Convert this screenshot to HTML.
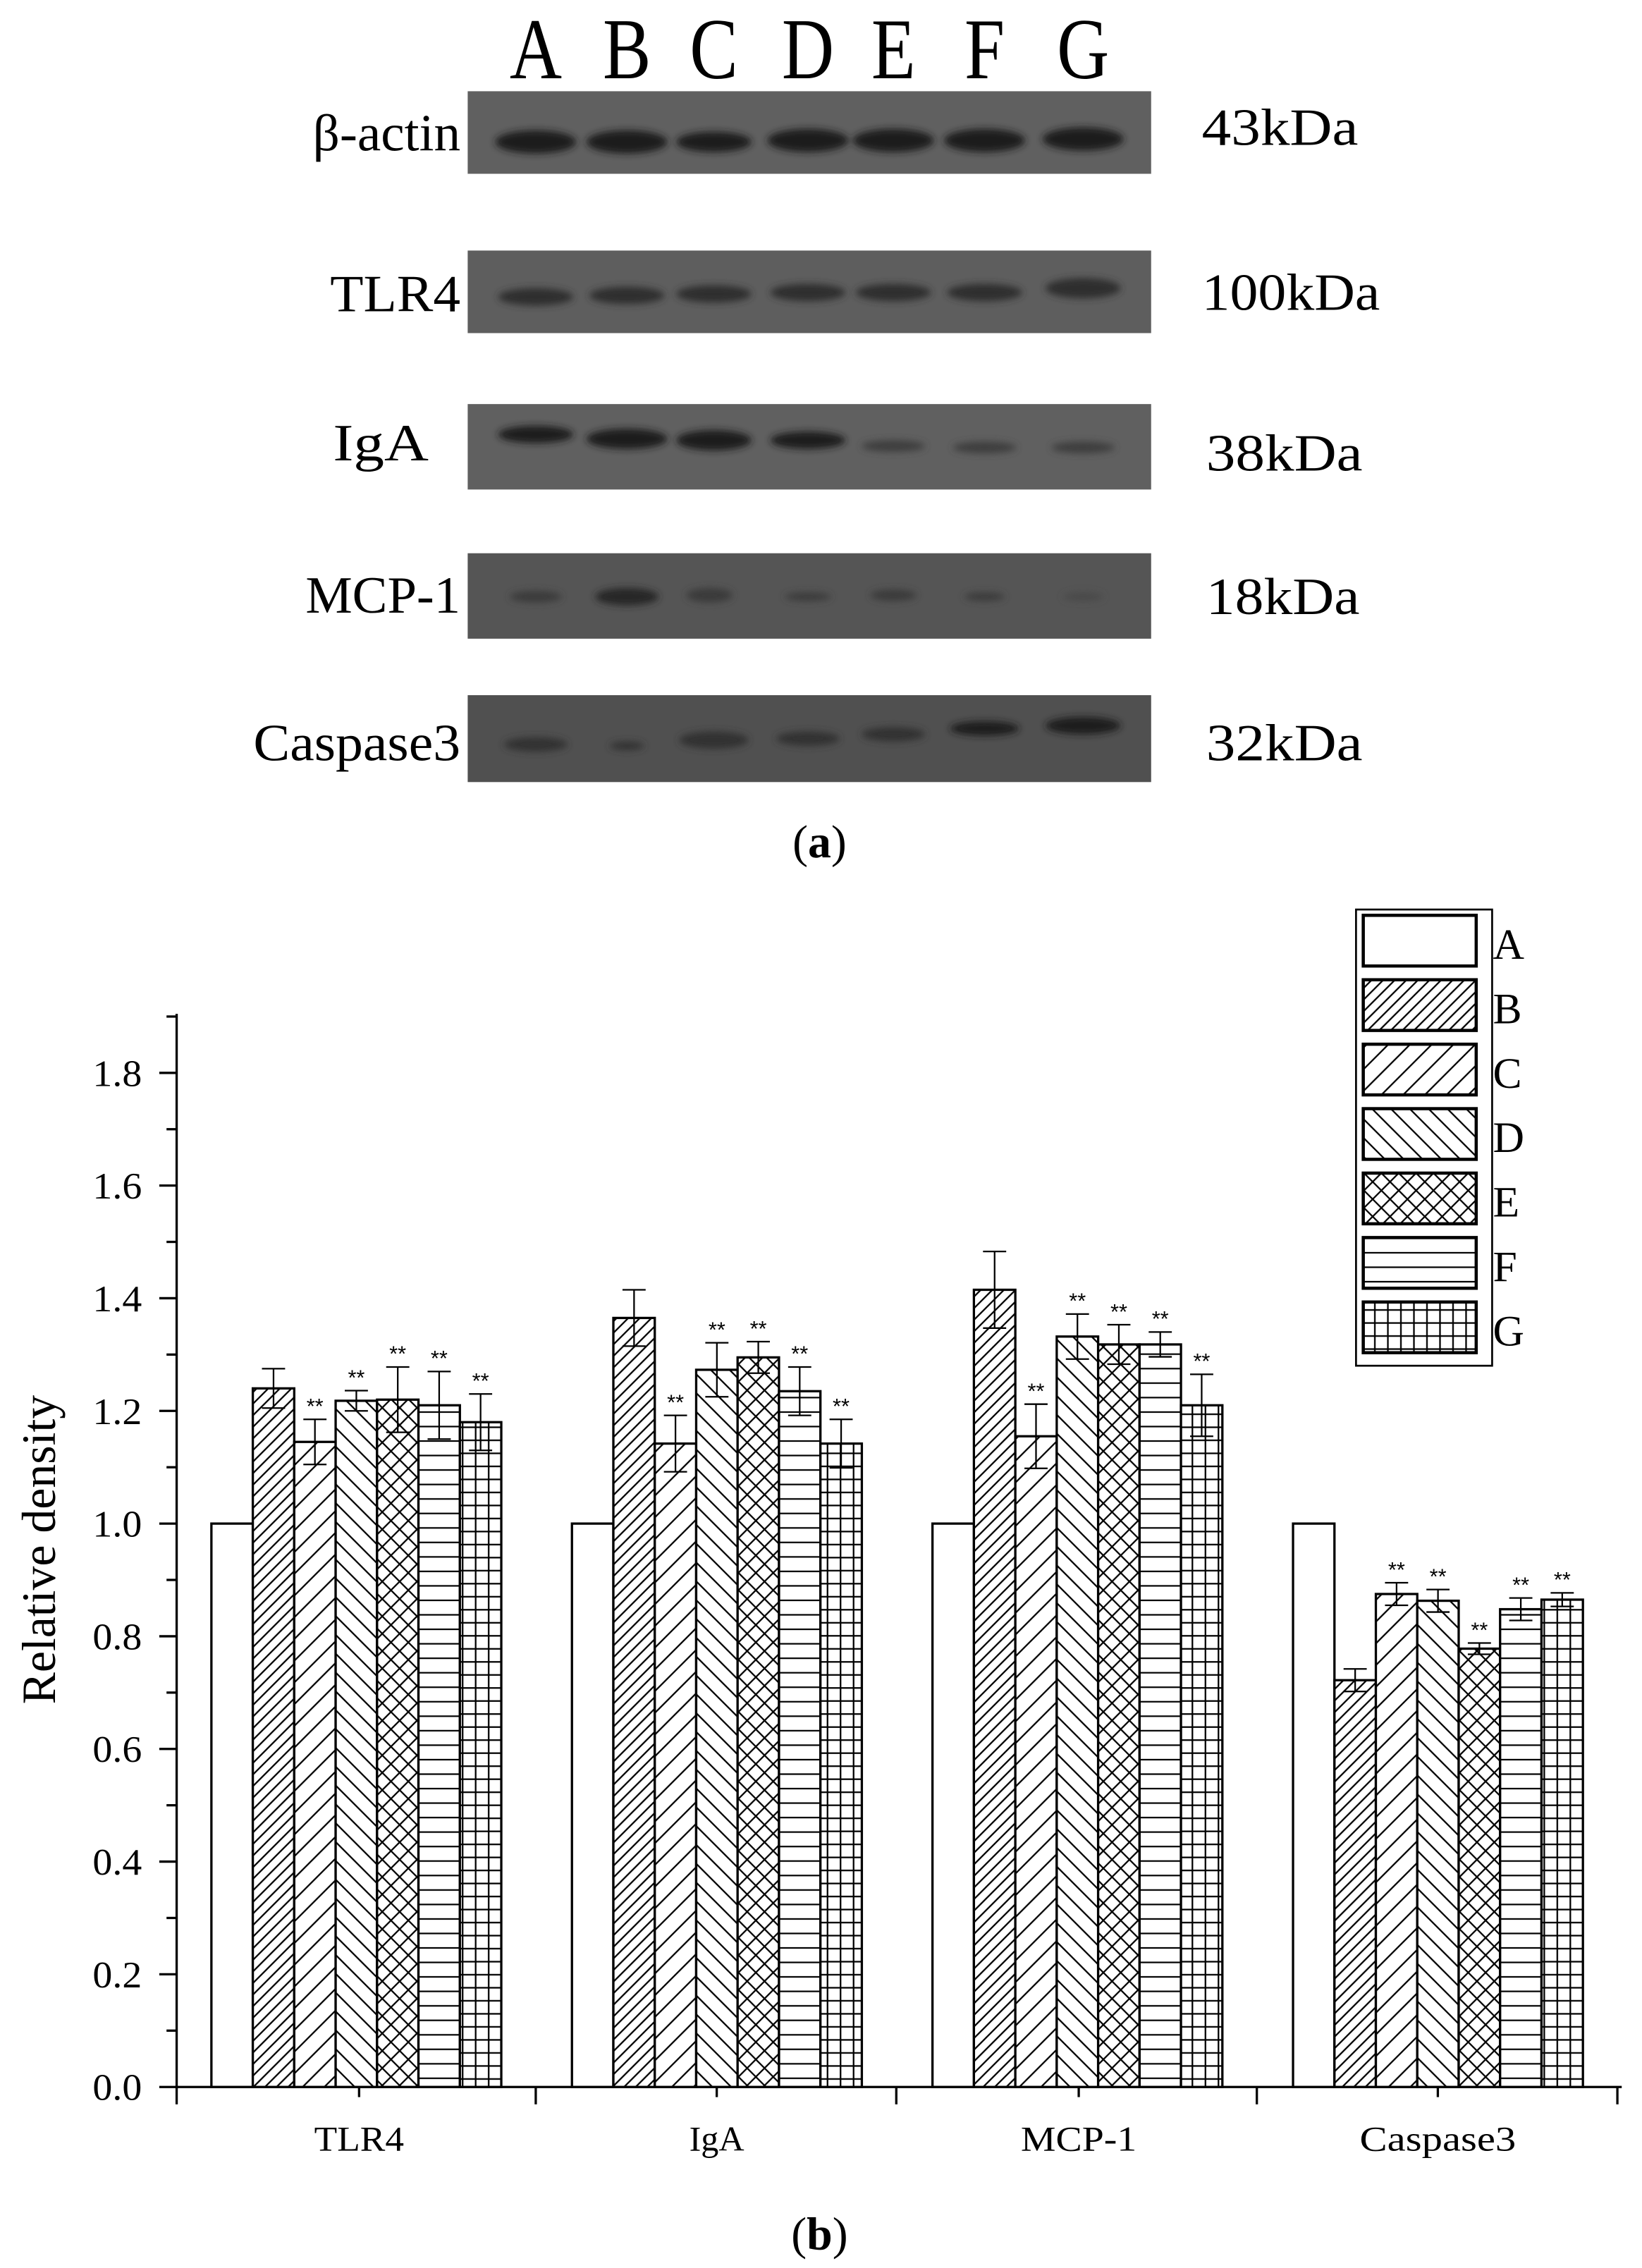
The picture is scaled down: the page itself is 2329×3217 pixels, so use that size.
<!DOCTYPE html>
<html><head><meta charset="utf-8"><style>html,body{margin:0;padding:0;background:#fff}svg{display:block}</style></head>
<body>
<svg xmlns="http://www.w3.org/2000/svg" width="2329" height="3217" viewBox="0 0 1134 1566" preserveAspectRatio="none" font-family="Liberation Serif, serif">
<defs>
<pattern id="pB" patternUnits="userSpaceOnUse" width="8" height="8"><rect width="8" height="8" fill="#fff"/><path d="M-1,9 L9,-1 M-3,3 L3,-3 M5,11 L11,5" stroke="#000" stroke-width="1.1"/></pattern>
<pattern id="pC" patternUnits="userSpaceOnUse" width="15" height="15"><rect width="15" height="15" fill="#fff"/><path d="M-1,16 L16,-1 M-3,3 L3,-3 M12,18 L18,12" stroke="#000" stroke-width="1.1"/></pattern>
<pattern id="pD" patternUnits="userSpaceOnUse" width="13" height="13"><rect width="13" height="13" fill="#fff"/><path d="M-1,-1 L14,14 M-3,10 L3,16 M10,-3 L16,3" stroke="#000" stroke-width="1.1"/></pattern>
<pattern id="pE" patternUnits="userSpaceOnUse" width="12" height="12"><rect width="12" height="12" fill="#fff"/><path d="M-1,-1 L13,13 M-1,13 L13,-1 M-3,9 L3,15 M9,-3 L15,3 M-3,3 L3,-3 M9,15 L15,9" stroke="#000" stroke-width="1.1"/></pattern>
<pattern id="pF" patternUnits="userSpaceOnUse" width="10" height="10"><rect width="10" height="10" fill="#fff"/><path d="M0,5 L10,5" stroke="#000" stroke-width="1.1"/></pattern>
<pattern id="pG" patternUnits="userSpaceOnUse" width="9" height="9"><rect width="9" height="9" fill="#fff"/><path d="M0,4.5 L9,4.5 M4.5,0 L4.5,9" stroke="#000" stroke-width="1.1"/></pattern>
<filter id="bl"><feGaussianBlur stdDeviation="2.5"/></filter>
</defs>
<rect width="1134" height="1566" fill="#fff"/>

<!-- Panel a -->
<g font-size="50" text-anchor="middle" transform="translate(0,54) scale(1,1.2)">
<text x="370" y="0">A</text><text x="433" y="0">B</text><text x="493" y="0">C</text><text x="558" y="0">D</text><text x="617" y="0">E</text><text x="680" y="0">F</text><text x="748" y="0">G</text>
</g>
<g id="blots">
<rect x="323" y="63" width="472" height="57" fill="#606060"/>
<rect x="323" y="173" width="472" height="57" fill="#5e5e5e"/>
<rect x="323" y="279" width="472" height="59" fill="#606060"/>
<rect x="323" y="382" width="472" height="59" fill="#555"/>
<rect x="323" y="480" width="472" height="60" fill="#505050"/>
<g filter="url(#bl)" fill="#1e1e1e">
<ellipse cx="370" cy="98" rx="28" ry="8"/><ellipse cx="433" cy="98" rx="28" ry="8"/><ellipse cx="493" cy="98" rx="26" ry="7"/><ellipse cx="558" cy="97" rx="28" ry="8"/><ellipse cx="617" cy="97" rx="28" ry="8"/><ellipse cx="680" cy="97" rx="28" ry="8"/><ellipse cx="748" cy="96" rx="28" ry="8"/>
<g fill="#2e2e2e"><ellipse cx="370" cy="205" rx="26" ry="6"/><ellipse cx="433" cy="204" rx="26" ry="6"/><ellipse cx="493" cy="203" rx="26" ry="6"/><ellipse cx="558" cy="202" rx="26" ry="6"/><ellipse cx="617" cy="202" rx="26" ry="6"/><ellipse cx="680" cy="202" rx="26" ry="6"/><ellipse cx="748" cy="199" rx="26" ry="7"/></g>
<ellipse cx="370" cy="300" rx="26" ry="6"/><ellipse cx="433" cy="303" rx="28" ry="7"/><ellipse cx="493" cy="304" rx="26" ry="7"/><ellipse cx="558" cy="304" rx="26" ry="6"/><g fill="#3e3e3e"><ellipse cx="617" cy="308" rx="22" ry="4"/><ellipse cx="680" cy="309" rx="22" ry="4"/><ellipse cx="748" cy="309" rx="22" ry="4"/></g>
<g fill="#3a3a3a"><ellipse cx="370" cy="412" rx="18" ry="4"/><ellipse cx="490" cy="411" rx="16" ry="5"/><ellipse cx="558" cy="412" rx="16" ry="3"/><ellipse cx="617" cy="411" rx="16" ry="4"/><ellipse cx="680" cy="412" rx="14" ry="3"/><ellipse cx="748" cy="412" rx="14" ry="3" fill="#4a4a4a"/></g><ellipse cx="433" cy="412" rx="22" ry="6" fill="#262626"/>
<g fill="#333"><ellipse cx="370" cy="514" rx="22" ry="5"/><ellipse cx="493" cy="511" rx="24" ry="6"/><ellipse cx="558" cy="510" rx="22" ry="5"/><ellipse cx="617" cy="507" rx="22" ry="5"/><ellipse cx="433" cy="515" rx="12" ry="3"/></g><ellipse cx="680" cy="503" rx="24" ry="5"/><ellipse cx="748" cy="501" rx="26" ry="6"/>
</g>
</g>
<g font-size="36" text-anchor="end">
<text x="318" y="104" textLength="102" lengthAdjust="spacingAndGlyphs">β-actin</text>
<text x="318" y="215" textLength="90" lengthAdjust="spacingAndGlyphs">TLR4</text>
<text x="296" y="318" textLength="66" lengthAdjust="spacingAndGlyphs">IgA</text>
<text x="318" y="423" textLength="107" lengthAdjust="spacingAndGlyphs">MCP-1</text>
<text x="318" y="525" textLength="143" lengthAdjust="spacingAndGlyphs">Caspase3</text>
</g>
<g font-size="36">
<text x="830" y="100" textLength="108" lengthAdjust="spacingAndGlyphs">43kDa</text>
<text x="830" y="214" textLength="123" lengthAdjust="spacingAndGlyphs">100kDa</text>
<text x="833" y="325" textLength="108" lengthAdjust="spacingAndGlyphs">38kDa</text>
<text x="833" y="424" textLength="106" lengthAdjust="spacingAndGlyphs">18kDa</text>
<text x="833" y="525" textLength="108" lengthAdjust="spacingAndGlyphs">32kDa</text>
</g>
<text x="566" y="592" font-size="32" text-anchor="middle">(<tspan font-weight="bold">a</tspan>)</text>

<!-- Panel b -->
<g stroke="#000" stroke-width="1.6">
<line x1="122" y1="700" x2="122" y2="1442"/>
<line x1="121" y1="1441" x2="1120" y2="1441"/>
</g>
<g id="ticks" stroke="#000" stroke-width="1.6"></g>
<g id="bars"></g>
<g font-size="26" text-anchor="end" id="ylab"></g>
<text transform="translate(38,1070) rotate(-90)" font-size="33" text-anchor="middle">Relative density</text>
<g font-size="24" text-anchor="middle">
<text x="248" y="1485" textLength="62" lengthAdjust="spacingAndGlyphs">TLR4</text><text x="495" y="1485" textLength="38" lengthAdjust="spacingAndGlyphs">IgA</text><text x="745" y="1485" textLength="80" lengthAdjust="spacingAndGlyphs">MCP-1</text><text x="993" y="1485" textLength="108" lengthAdjust="spacingAndGlyphs">Caspase3</text>
</g>
<text x="566" y="1553" font-size="32" text-anchor="middle">(<tspan font-weight="bold">b</tspan>)</text>

<rect x="936.5" y="628" width="94" height="315" fill="#fff" stroke="#000" stroke-width="1.3"/>
<g id="legend" font-size="30"></g>
<script>
(function(){
var NS="http://www.w3.org/2000/svg";
function el(p,t,a,txt){var e=document.createElementNS(NS,t);for(var k in a)e.setAttribute(k,a[k]);if(txt!=null)e.textContent=txt;document.getElementById(p).appendChild(e);return e;}
function Y(v){return 1441-v*389;}
for(var i=0;i<=19;i++){var y=Y(i*0.1);var major=i%2==0;el("ticks","line",{x1:major?110:115,y1:y,x2:122,y2:y});
 if(major&&i<=18)el("ylab","text",{x:98,y:y+9,textLength:34,lengthAdjust:"spacingAndGlyphs"},(i/10).toFixed(1));}
var xt=[122,370,619,868,1117];xt.forEach(function(x){el("ticks","line",{x1:x,y1:1441,x2:x,y2:1453});});
[248,495,745,993].forEach(function(x){el("ticks","line",{x1:x,y1:1441,x2:x,y2:1448});});
var fills=["#fff","url(#pB)","url(#pC)","url(#pD)","url(#pE)","url(#pF)","url(#pG)"];
var data=[[[1,0],[1.24,.035],[1.145,.04],[1.218,.018],[1.22,.058],[1.21,.06],[1.18,.05]],
[[1,0],[1.365,.05],[1.142,.05],[1.273,.048],[1.295,.028],[1.235,.043],[1.142,.043]],
[[1,0],[1.415,.068],[1.155,.057],[1.332,.04],[1.318,.035],[1.318,.022],[1.21,.055]],
[[1,0],[0.722,.02],[0.875,.02],[0.863,.02],[0.778,.01],[0.848,.02],[0.865,.012]]];
var starts=[146,395,644,893],w=28.6;
data.forEach(function(g,gi){g.forEach(function(d,bi){
 var x=starts[gi]+bi*w,y=Y(d[0]);
 el("bars","rect",{x:x,y:y,width:w,height:1441-y,fill:fills[bi],stroke:"#000","stroke-width":1.6});
 if(d[1]>0){var cx=x+w/2,t=Y(d[0]+d[1]),b=Y(d[0]-d[1]);
  el("bars","line",{x1:cx,y1:t,x2:cx,y2:b,stroke:"#000","stroke-width":1.1});
  el("bars","line",{x1:cx-8,y1:t,x2:cx+8,y2:t,stroke:"#000","stroke-width":1.1});
  el("bars","line",{x1:cx-8,y1:b,x2:cx+8,y2:b,stroke:"#000","stroke-width":1.1});
  var star=(gi<3&&bi>=2)||(gi==3&&bi>=2);
  if(star){el("bars","text",{x:cx,y:t-4,"font-size":15,"text-anchor":"middle","font-family":"Liberation Sans, sans-serif"},"**");}
 }
});});
var L="ABCDEFG";
for(var i=0;i<7;i++){var y=632+i*44.5;
 el("legend","rect",{x:941.5,y:y,width:78,height:35,fill:fills[i],stroke:"#000","stroke-width":2.2});
 el("legend","text",{x:1031,y:y+30},L[i]);}
})();
</script>
</svg>
</body></html>
